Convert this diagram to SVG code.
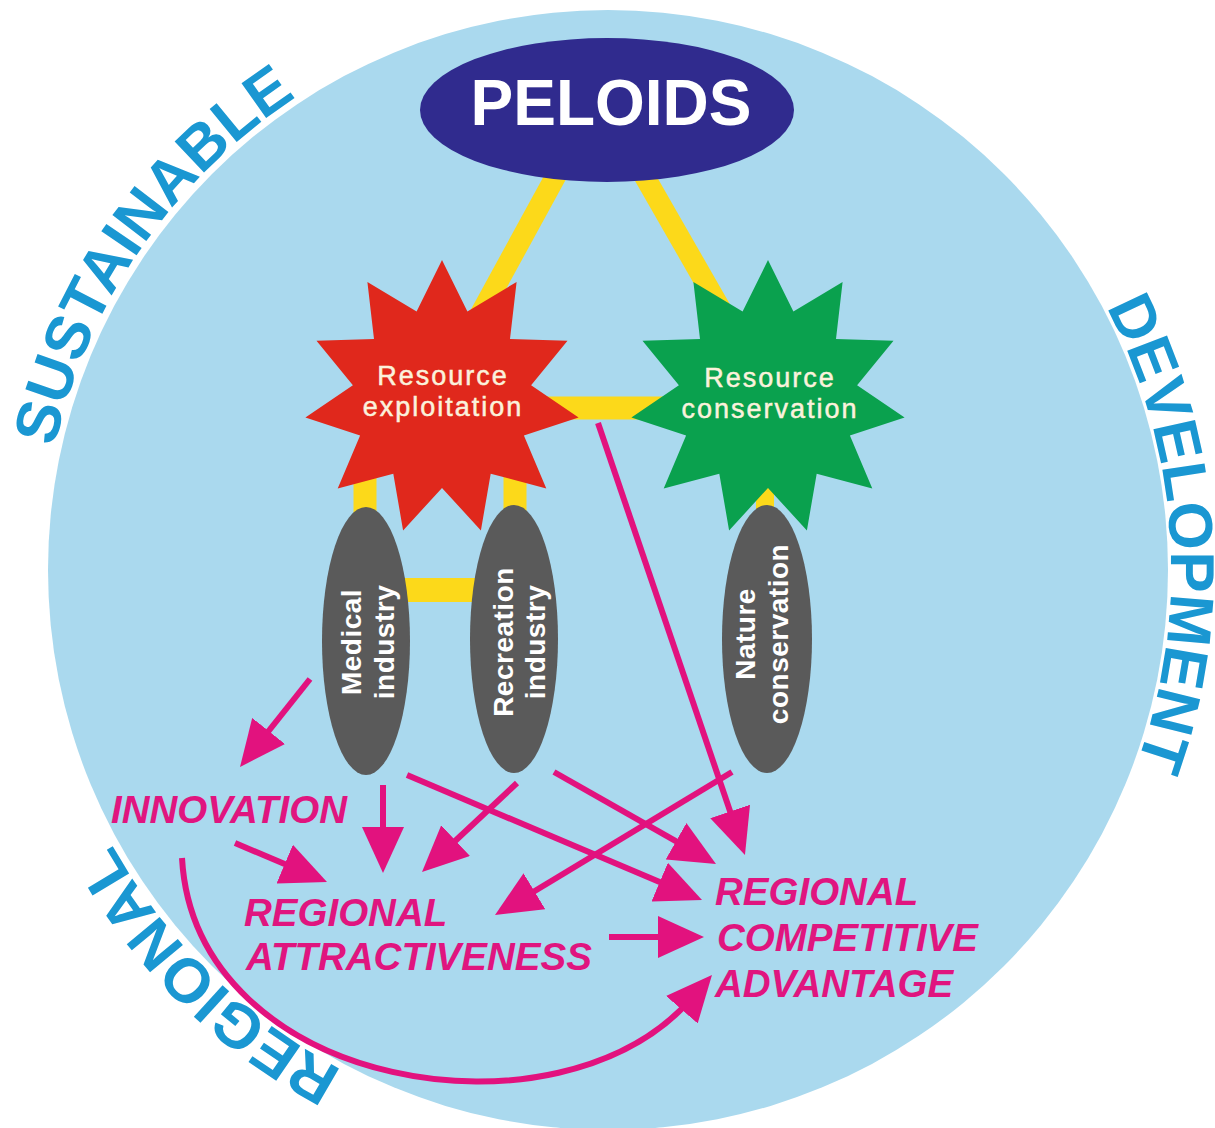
<svg xmlns="http://www.w3.org/2000/svg" xmlns:xlink="http://www.w3.org/1999/xlink" width="1215" height="1128" viewBox="0 0 1215 1128">
<style>
  .ring-text{font-family:"Liberation Sans",Arial,sans-serif;font-weight:bold;font-size:62px;fill:#1a97d2}
  .band{stroke:#fcd91a;fill:none;stroke-linecap:butt}
  .gray{fill:#5a5a5a}
  .vtext{font-family:"Liberation Sans",Arial,sans-serif;font-weight:bold;font-size:28px;letter-spacing:0.5px;fill:#ffffff;text-anchor:middle}
  .startext{font-family:"Liberation Sans",Arial,sans-serif;font-size:27px;letter-spacing:2px;fill:#fbf2dc;stroke:#fbf2dc;stroke-width:0.5px;text-anchor:middle}
  .outcome{font-family:"Liberation Sans",Arial,sans-serif;font-weight:bold;font-style:italic;font-size:38.5px;fill:#e0157f}
  .arrow{stroke:#e2127e;stroke-width:6;fill:none;marker-end:url(#head)}
</style>
<defs>
  <marker id="head" viewBox="0 0 46 42" refX="16" refY="21" markerWidth="46" markerHeight="42" markerUnits="userSpaceOnUse" orient="auto">
    <path d="M0,0 L46,21 L0,42 Z" fill="#e2127e"/>
  </marker>
  <polygon id="star11" points="0,-138 25.4,-86.4 74.6,-116.1 68,-58.9 125.5,-57.3 89.1,-12.8 136.6,19.6 81.9,37.4 104.3,90.4 48.7,75.7 38.9,132.4 0,90 -38.9,132.4 -48.7,75.7 -104.3,90.4 -81.9,37.4 -136.6,19.6 -89.1,-12.8 -125.5,-57.3 -68,-58.9 -74.6,-116.1 -25.4,-86.4"/>
  <path id="ring" d="M41,570 A565,565 0 1 1 1171,570 A565,565 0 1 1 41,570"/>
</defs>

<rect x="0" y="0" width="1215" height="1128" fill="#ffffff"/>
<circle id="background" cx="608" cy="570" r="560" fill="#aad9ee"/>

<g id="ring-labels">
  <text class="ring-text" text-anchor="middle"><textPath xlink:href="#ring" href="#ring" startOffset="342.2">SUSTAINABLE</textPath></text>
  <text class="ring-text" text-anchor="middle"><textPath xlink:href="#ring" href="#ring" startOffset="1737.5">DEVELOPMENT</textPath></text>
  <text class="ring-text" text-anchor="middle"><textPath xlink:href="#ring" href="#ring" startOffset="3100.3">REGIONAL</textPath></text>
</g>

<g id="links">
  <line class="band" x1="558" y1="172" x2="476" y2="322" stroke-width="21"/>
  <line class="band" x1="642" y1="172" x2="728" y2="322" stroke-width="21"/>
  <line class="band" x1="540" y1="408" x2="680" y2="408" stroke-width="23"/>
  <line class="band" x1="365" y1="470" x2="365" y2="525" stroke-width="23"/>
  <line class="band" x1="515" y1="470" x2="515" y2="525" stroke-width="23"/>
  <line class="band" x1="400" y1="590" x2="480" y2="590" stroke-width="24"/>
  <line class="band" x1="765" y1="470" x2="765" y2="520" stroke-width="18"/>
</g>

<g id="peloids">
  <ellipse cx="607" cy="110" rx="187" ry="72" fill="#302b8e"/>
  <text x="611" y="125" text-anchor="middle" font-family="'Liberation Sans',Arial,sans-serif" font-weight="bold" font-size="64" fill="#ffffff">PELOIDS</text>
</g>

<g id="resource-exploitation">
  <use xlink:href="#star11" href="#star11" transform="translate(442,398)" fill="#e0281c"/>
  <text class="startext" x="443" y="385">Resource</text>
  <text class="startext" x="443" y="416">exploitation</text>
</g>

<g id="resource-conservation">
  <use xlink:href="#star11" href="#star11" transform="translate(768,398)" fill="#0aa14e"/>
  <text class="startext" x="770" y="387">Resource</text>
  <text class="startext" x="770" y="418">conservation</text>
</g>

<g id="medical-industry">
  <ellipse class="gray" cx="366" cy="641" rx="44" ry="134"/>
  <text class="vtext" transform="translate(366,642) rotate(-90)"><tspan x="0" y="-5">Medical</tspan><tspan x="0" y="28">industry</tspan></text>
</g>

<g id="recreation-industry">
  <ellipse class="gray" cx="514" cy="639" rx="44" ry="134"/>
  <text class="vtext" transform="translate(514,642) rotate(-90)"><tspan x="0" y="-1">Recreation</tspan><tspan x="0" y="31">industry</tspan></text>
</g>

<g id="nature-conservation">
  <ellipse class="gray" cx="767" cy="639" rx="45" ry="134"/>
  <text class="vtext" transform="translate(767,634) rotate(-90)"><tspan x="0" y="-12">Nature</tspan><tspan x="0" y="21">conservation</tspan></text>
</g>

<g id="connectors">
  <line class="arrow" x1="310" y1="679" x2="258.7" y2="743.5"/>
  <line class="arrow" x1="383" y1="785" x2="383" y2="843"/>
  <line class="arrow" x1="235" y1="843" x2="299.4" y2="870.3"/>
  <line class="arrow" x1="517" y1="783" x2="443.9" y2="851.5"/>
  <line class="arrow" x1="732" y1="772" x2="520.7" y2="899.5"/>
  <line class="arrow" x1="407" y1="775" x2="674.4" y2="888.3"/>
  <line class="arrow" x1="554" y1="772" x2="689.9" y2="849.2"/>
  <line class="arrow" x1="598" y1="423" x2="735.3" y2="826.6"/>
  <line class="arrow" x1="609" y1="937" x2="674" y2="937"/>
  <path class="arrow" d="M182,858 C195,1090 560,1150 692.3,997.6"/>
</g>

<g id="innovation">
  <text class="outcome" x="111" y="823">INNOVATION</text>
</g>

<g id="regional-attractiveness">
  <text class="outcome" x="244" y="926">REGIONAL</text>
  <text class="outcome" x="246" y="970">ATTRACTIVENESS</text>
</g>

<g id="regional-competitive-advantage">
  <text class="outcome" x="715" y="905">REGIONAL</text>
  <text class="outcome" x="717" y="951">COMPETITIVE</text>
  <text class="outcome" x="715" y="997">ADVANTAGE</text>
</g>
</svg>
